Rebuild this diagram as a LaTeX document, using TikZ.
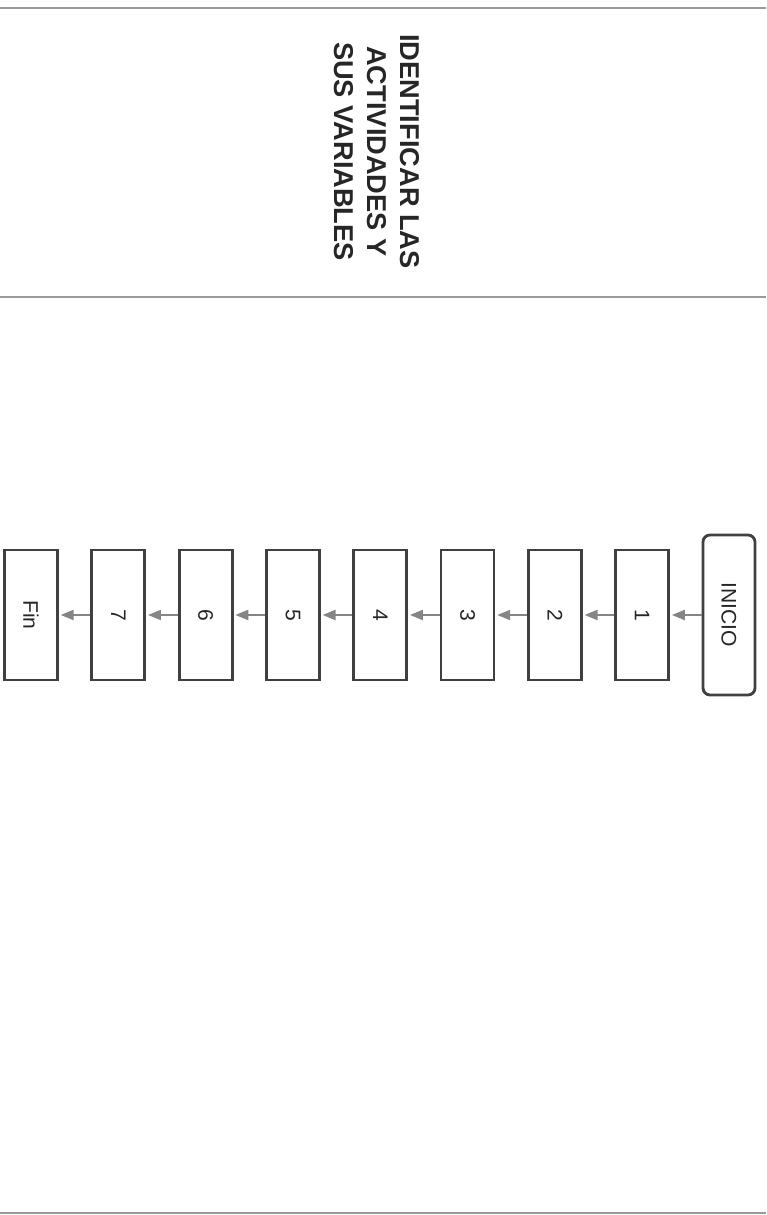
\documentclass[tikz,border=0pt]{standalone}
\usepackage{fontspec}
\setmainfont{Liberation Sans}
\usepackage{graphicx}
\usetikzlibrary{arrows.meta,positioning}
\definecolor{rulegray}{HTML}{9A9A9A}
\definecolor{boxgray}{HTML}{404040}
\definecolor{arrowgray}{HTML}{858585}
\definecolor{inkgray}{HTML}{262626}
\tikzset{
  divider/.style={rulegray, line width=1.1pt},
  startbox/.style={draw=boxgray, rounded corners=4pt, line width=1.6pt, minimum width=1.04cm, minimum height=3.2cm, inner sep=0pt, text=inkgray, font=\fontsize{12}{14}\selectfont},
  stepbox/.style={draw=boxgray, line width=1.6pt, minimum width=1.06cm, minimum height=2.6cm, inner sep=0pt, text=inkgray, font=\fontsize{12}{14}\selectfont},
  flowarrow/.style={arrowgray, line width=1.2pt, -{Triangle[length=2.6mm,width=2mm]}, shorten >=1pt},
  titletext/.style={text=inkgray, font=\bfseries\fontsize{15.5}{18.7}\selectfont, align=center, rotate=-90}
}

\begin{document}
\begin{tikzpicture}[node distance=0.63cm]
  \useasboundingbox (0,0) rectangle (15.32,24.3);
  % page rules
  \draw[divider] (0,24.14)--(15.32,24.14);
  \draw[divider] (0,18.36)--(15.32,18.36);
  \draw[divider] (0,0.04)--(15.32,0.04);
  \node[titletext] (title) at (7.54,21.27) {IDENTIFICAR LAS\\ACTIVIDADES Y\\SUS VARIABLES};
  % flow of activities
  \node[startbox] (s0) at (14.58,12.0) {\rotatebox{-90}{INICIO}};
  \foreach \i [remember=\i as \prev (initially 0)] in {1,...,7}{
    \node[stepbox, left=of s\prev] (s\i) {\rotatebox{-90}{\i}};
    \draw[flowarrow] (s\prev) -- (s\i);
  }
  \node[stepbox, left=of s7] (fin) {\rotatebox{-90}{Fin}};
  \draw[flowarrow] (s7) -- (fin);
\end{tikzpicture}
\end{document}
